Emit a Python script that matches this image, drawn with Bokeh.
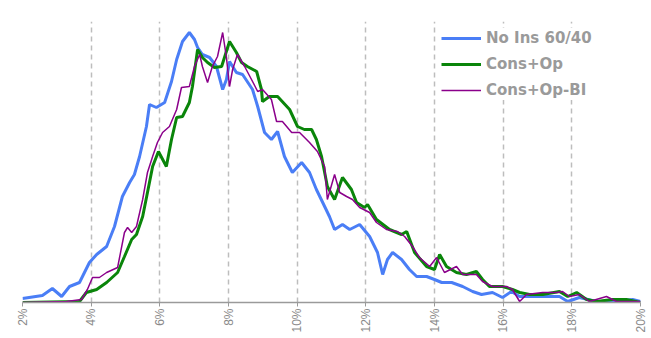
import math
from bokeh.plotting import figure
from bokeh.models import Range1d, FixedTicker, Legend, LegendItem
from bokeh.embed import file_html
from bokeh.resources import INLINE

# --- data (x: return %, y: frequency %) ---
tick_values = [2, 4, 6, 8, 10, 12, 14, 16, 18, 20]
tick_labels = {t: f"{t}%" for t in tick_values}

blue_x = [2.00, 2.58, 2.87, 3.14, 3.37, 3.66, 3.95, 4.16, 4.45, 4.68, 4.91, 5.12, 5.26, 5.41, 5.61, 5.70,
          5.90, 6.14, 6.34, 6.49, 6.66, 6.86, 7.01, 7.10, 7.24, 7.45, 7.65, 7.83, 7.94, 8.03, 8.23, 8.41,
          8.70, 8.85, 9.05, 9.25, 9.43, 9.63, 9.86, 10.13, 10.36, 10.56, 10.80, 10.94, 11.09, 11.32, 11.53,
          11.82, 12.11, 12.34, 12.49, 12.63, 12.78, 13.04, 13.27, 13.48, 13.77, 14.00, 14.21, 14.50, 14.82,
          15.11, 15.37, 15.69, 15.98, 16.24, 16.48, 16.86, 17.35, 17.64, 17.88, 18.22, 18.72, 19.19, 19.77, 20.00]
blue_y = [0.04, 0.07, 0.14, 0.06, 0.16, 0.20, 0.40, 0.48, 0.56, 0.76, 1.06, 1.20, 1.28, 1.46, 1.76, 1.98,
          1.95, 2.00, 2.21, 2.43, 2.61, 2.70, 2.63, 2.55, 2.48, 2.45, 2.36, 2.13, 2.23, 2.41, 2.30, 2.28,
          2.13, 1.96, 1.70, 1.63, 1.71, 1.46, 1.30, 1.40, 1.30, 1.13, 0.96, 0.86, 0.73, 0.78, 0.73,
          0.78, 0.66, 0.50, 0.28, 0.43, 0.50, 0.43, 0.33, 0.26, 0.26, 0.23, 0.20, 0.20, 0.16,
          0.11, 0.08, 0.10, 0.05, 0.11, 0.06, 0.06, 0.06, 0.06, 0.01, 0.05, 0.01, 0.01, 0.03, 0.01]

green_x = [2.00, 3.66, 3.86, 4.16, 4.45, 4.77, 4.97, 5.18, 5.32, 5.50, 5.64, 5.79, 5.96, 6.19, 6.34, 6.49,
           6.66, 6.86, 6.95, 7.10, 7.24, 7.39, 7.59, 7.80, 8.03, 8.23, 8.38, 8.55, 8.82, 8.96, 8.99, 9.19,
           9.43, 9.78, 10.01, 10.21, 10.42, 10.56, 10.71, 10.88, 11.09, 11.32, 11.58, 11.73, 11.96, 12.05,
           12.31, 12.69, 13.04, 13.19, 13.42, 13.77, 14.00, 14.15, 14.35, 14.64, 14.93, 15.22, 15.40, 15.60,
           15.98, 16.27, 16.48, 16.77, 17.15, 17.64, 17.88, 18.14, 18.43, 18.72, 19.19, 19.59, 20.00]
green_y = [0.00, 0.01, 0.10, 0.13, 0.20, 0.30, 0.46, 0.63, 0.68, 0.86, 1.10, 1.36, 1.51, 1.36, 1.63, 1.85,
           1.86, 2.00, 2.16, 2.53, 2.45, 2.40, 2.35, 2.36, 2.61, 2.50, 2.40, 2.36, 2.31, 2.13, 2.01, 2.06,
           2.06, 1.93, 1.76, 1.73, 1.73, 1.63, 1.46, 1.16, 1.03, 1.25, 1.13, 1.00, 0.95, 0.98,
           0.83, 0.73, 0.68, 0.71, 0.50, 0.36, 0.33, 0.48, 0.36, 0.30, 0.28, 0.31, 0.23, 0.16,
           0.16, 0.13, 0.10, 0.08, 0.08, 0.11, 0.06, 0.10, 0.03, 0.01, 0.03, 0.03, 0.00]

purple_x = [2.00, 3.28, 3.72, 3.89, 4.04, 4.24, 4.45, 4.77, 4.97, 5.06, 5.18, 5.32, 5.50, 5.64, 5.79, 5.93,
            6.08, 6.28, 6.49, 6.63, 6.86, 7.01, 7.16, 7.24, 7.39, 7.53, 7.68, 7.83, 7.94, 8.03, 8.12, 8.26,
            8.47, 8.67, 8.85, 8.99, 9.25, 9.40, 9.57, 9.84, 10.07, 10.36, 10.59, 10.80, 10.88, 11.09, 11.24,
            11.44, 11.61, 11.82, 12.11, 12.31, 12.60, 12.92, 13.13, 13.36, 13.56, 13.86, 14.06, 14.29, 14.64,
            14.82, 15.22, 15.40, 15.69, 16.10, 16.27, 16.48, 16.68, 17.15, 17.56, 17.73, 17.93, 18.22, 18.51,
            19.01, 19.30, 19.68, 20.00]
purple_y = [0.00, 0.01, 0.03, 0.13, 0.25, 0.25, 0.30, 0.35, 0.70, 0.75, 0.70, 0.76, 1.03, 1.30, 1.46, 1.60,
            1.70, 1.76, 1.93, 2.15, 2.16, 2.36, 2.48, 2.36, 2.20, 2.36, 2.46, 2.70, 2.45, 2.16, 2.33, 2.48,
            2.36, 2.23, 2.11, 2.13, 2.03, 1.81, 1.81, 1.70, 1.70, 1.60, 1.51, 1.36, 1.03, 1.28, 1.10,
            1.06, 1.03, 0.95, 0.90, 0.80, 0.73, 0.71, 0.66, 0.56, 0.45, 0.36, 0.45, 0.30, 0.36,
            0.28, 0.28, 0.21, 0.16, 0.16, 0.13, 0.01, 0.08, 0.10, 0.10, 0.11, 0.06, 0.08, 0.01,
            0.06, 0.01, 0.01, 0.01]

series_names = ["No Ins 60/40", "Cons+Op", "Cons+Op-BI"]

p = figure(width=650, height=337, output_backend="svg", toolbar_location=None,
           x_range=Range1d(2, 20), y_range=Range1d(0, 2.81),
           min_border_left=22, min_border_right=10, min_border_top=21, min_border_bottom=35)
p.outline_line_color = None
p.background_fill_color = "white"

r_blue = p.line(blue_x, blue_y, line_color="#4a7ef6", line_width=3)
r_green = p.line(green_x, green_y, line_color="#0a850a", line_width=3)
r_purple = p.line(purple_x, purple_y, line_color="#8b008b", line_width=1.5)

p.yaxis.visible = False
p.ygrid.visible = False

p.xaxis.ticker = FixedTicker(ticks=tick_values)
p.xaxis.major_label_overrides = tick_labels
p.xaxis.major_label_orientation = math.pi / 2
p.xaxis.major_label_text_font = "Liberation Sans"
p.xaxis.major_label_text_font_size = "12px"
p.xaxis.major_label_text_color = "#8a8a8a"
p.xaxis.major_label_standoff = 2
p.xaxis.axis_line_color = "#9a9a9a"
p.xaxis.axis_line_width = 1.5
p.xaxis.major_tick_line_color = "#9a9a9a"
p.xaxis.major_tick_in = 0
p.xaxis.major_tick_out = 4
p.xaxis.minor_tick_line_color = None

p.xgrid.ticker = FixedTicker(ticks=tick_values)
p.xgrid.grid_line_color = "#bdbdbd"
p.xgrid.grid_line_dash = "5 4"
p.xgrid.grid_line_width = 1.5

legend = Legend(items=[LegendItem(label=series_names[0], renderers=[r_blue]),
                       LegendItem(label=series_names[1], renderers=[r_green]),
                       LegendItem(label=series_names[2], renderers=[r_purple])],
                location=(419, 202))
legend.border_line_color = None
legend.background_fill_color = "white"
legend.background_fill_alpha = 1.0
legend.label_text_font = "DejaVu Sans"
legend.label_text_font_style = "bold"
legend.label_text_font_size = "15px"
legend.label_text_color = "#9a9a9a"
legend.glyph_width = 40
legend.glyph_height = 20
legend.label_height = 20
legend.label_standoff = 5
legend.spacing = 6
legend.padding = 5
legend.margin = 0
p.add_layout(legend)

open("out.html", "w").write(file_html(p, INLINE))
